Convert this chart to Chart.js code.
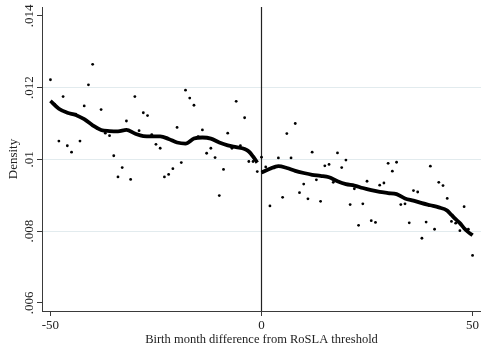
<!DOCTYPE html>
<html>
<head>
<meta charset="utf-8">
<script src="https://cdn.jsdelivr.net/npm/chart.js"></script>
<style>
  html, body { margin: 0; padding: 0; background: #fff; }
  #wrap { width: 481px; height: 352px; }
</style>
</head>
<body>
<div id="wrap"><canvas id="myChart" width="481" height="352"></canvas></div>
<script>
// monthly bins, scatter of density
const months = [-50,-49,-48,-47,-46,-45,-44,-43,-42,-41,-40,-39,-38,-37,-36,-35,-34,-33,-32,-31,
  -30,-29,-28,-27,-26,-25,-24,-23,-22,-21,-20,-19,-18,-17,-16,-15,-14,-13,-12,-11,
  -10,-9,-8,-7,-6,-5,-4,-3,-2,-1,
  0,1,2,3,4,5,6,7,8,9,10,11,12,13,14,15,16,17,18,19,
  20,21,22,23,24,25,26,27,28,29,30,31,32,33,34,35,36,37,38,39,
  40,41,42,43,44,45,46,47,48,49,50];
const density = [.01222,.01153,.01051,.01175,.01038,.01020,.01126,.01051,.01149,.01208,.01265,.01087,.01139,.01073,.01066,.01010,.00951,.00977,.01107,.00944,
  .01175,.01080,.01130,.01122,.01069,.01042,.01031,.00951,.00958,.00974,.01089,.00991,.01193,.01171,.01151,.01063,.01082,.01017,.01031,.01005,
  .00899,.00972,.01073,.01031,.01162,.01038,.01116,.00994,.00994,.00966,
  .01006,.00979,.00870,.00976,.01004,.00894,.01072,.01004,.01100,.00907,.00931,.00890,.01020,.00943,.00883,.00982,.00986,.00936,.01018,.00977,
  .00998,.00874,.00918,.00816,.00876,.00939,.00829,.00824,.00928,.00934,.00989,.00967,.00992,.00874,.00876,.00823,.00913,.00909,.00780,.00825,
  .00981,.00805,.00936,.00927,.00891,.00827,.00822,.00801,.00868,.00805,.00732];

// smoothed fit, below threshold
const fitLeftX = [-50,-48,-46,-44,-42,-40,-38,-36,-34,-32,-30,-28,-26,-24,-22,-20,-18,-16,-14,-12,-10,-8,-6,-4,-3,-2,-1];
const fitLeftY = [.01163,.01141,.01130,.01124,.01112,.01095,.01082,.01079,.01078,.01082,.01072,.01065,.01064,.01064,.01057,.01047,.01044,.01058,.01061,.01058,.01047,.01039,.01034,.01029,.01022,.01008,.00991];
// smoothed fit, above threshold
const fitRightX = [0,2,4,6,8,10,12,14,16,18,20,22,24,26,28,30,32,34,36,38,40,42,44,45,46,47,48,49,50];
const fitRightY = [.00963,.00974,.00981,.00976,.00968,.00962,.00957,.00954,.00950,.00939,.00931,.00927,.00920,.00914,.00909,.00906,.00903,.00891,.00885,.00878,.00872,.00866,.00857,.00845,.00833,.00822,.00808,.00797,.00788];

const threshold = [0];
const xTicks = [-50, 0, 50];
const yTicks = [.006, .008, .010, .012, .014];
const yGrid = [.008, .010, .012];
const xMin = -52, xMax = 52, yMin = .00577, yMax = .01425;

const serif = '"Liberation Serif", "DejaVu Serif", serif';
const axisColor = '#3a3a3a';

const pts = months.map((m, i) => ({x: m, y: density[i]}));
const left = fitLeftX.map((m, i) => ({x: m, y: fitLeftY[i]}));
const right = fitRightX.map((m, i) => ({x: m, y: fitRightY[i]}));
const vline = [{x: threshold[0], y: yMin}, {x: threshold[0], y: yMax}];

const ctx = document.getElementById('myChart').getContext('2d');
const myChart = new Chart(ctx, {
  type: 'scatter',
  data: {
    datasets: [
      { data: left, showLine: true, borderColor: '#000', borderWidth: 3.8, pointRadius: 0,
        cubicInterpolationMode: 'monotone', order: 0 },
      { data: right, showLine: true, borderColor: '#000', borderWidth: 3.8, pointRadius: 0,
        cubicInterpolationMode: 'monotone', order: 0 },
      { data: pts, backgroundColor: '#000', borderWidth: 0, pointRadius: 1.4, order: 1 },
      { data: vline, showLine: true, borderColor: '#222', borderWidth: 1.2, pointRadius: 0, order: 2 }
    ]
  },
  options: {
    responsive: false,
    animation: false,
    events: [],
    layout: { autoPadding: false, padding: { top: 7, right: 0, left: 0, bottom: 0 } },
    plugins: { legend: { display: false }, tooltip: { enabled: false } },
    scales: {
      x: {
        type: 'linear', min: xMin, max: xMax,
        afterBuildTicks: s => { s.ticks = xTicks.map(v => ({value: v})); },
        afterFit: s => { s.height = 41; s.paddingLeft = 0; s.paddingRight = 0; },
        grid: { drawOnChartArea: false, tickLength: 5, tickColor: axisColor },
        border: { color: axisColor, width: 1 },
        ticks: { color: '#222', font: { family: serif, size: 13 }, padding: 2, maxRotation: 0 },
        title: { display: true, text: 'Birth month difference from RoSLA threshold',
          color: '#222', font: { family: serif, size: 12.5 }, padding: { top: 0, bottom: 5 } }
      },
      y: {
        type: 'linear', min: yMin, max: yMax,
        afterBuildTicks: s => { s.ticks = yTicks.map(v => ({value: v})); },
        afterFit: s => { s.width = 42; s.paddingTop = 0; s.paddingBottom = 0; },
        grid: {
          color: c => (c.tick && yGrid.some(g => Math.abs(g - c.tick.value) < 1e-9)) ? '#e2ebee' : 'rgba(0,0,0,0)',
          tickLength: 5, tickColor: axisColor
        },
        border: { color: axisColor, width: 1 },
        ticks: {
          color: '#222', font: { family: serif, size: 13 }, padding: -4,
          minRotation: 90, maxRotation: 90, crossAlign: 'center',
          callback: v => String(+v.toFixed(3)).replace(/^0/, '')
        },
        title: { display: true, text: 'Density', color: '#222',
          font: { family: serif, size: 13 }, padding: { top: 6 } }
      }
    }
  }
});
</script>
</body>
</html>
